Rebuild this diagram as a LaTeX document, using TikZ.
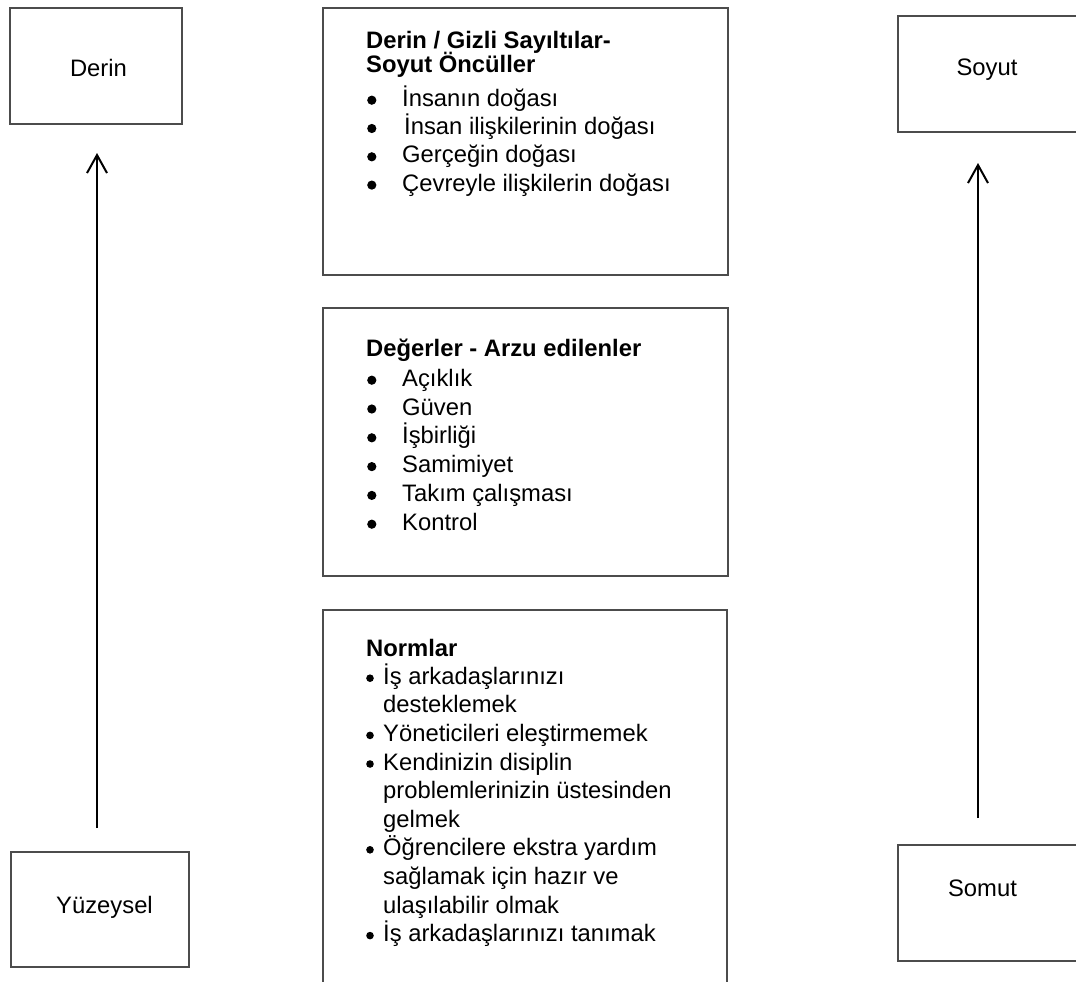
\documentclass[tikz,border=0pt]{standalone}
\usepackage{fontspec}
\setmainfont{Liberation Sans}
\usetikzlibrary{arrows.meta}
\newcommand\bigblt{\tikz[baseline=0pt]{\fill (0pt,6pt) circle[radius=4.6pt];}}
\newcommand\smlblt{\tikz[baseline=0pt]{\fill (0pt,6pt) circle[radius=3.8pt];}}
\newcommand\itA{\hspace*{1pt}\makebox[35pt][l]{\bigblt}}
\newcommand\itB{\hspace*{0pt}\makebox[17pt][l]{\smlblt}}
\begin{document}
\begin{tikzpicture}[x=1pt,y=-1pt,
  box/.style={draw=black!70, line width=1.1pt, inner sep=0pt, outer sep=0pt, anchor=north west},
  lbl/.style={anchor=base, inner sep=0pt, font=\fontsize{23.8}{28}\selectfont},
  txt/.style={anchor=north west, inner sep=0pt, align=left},
  arr/.style={line width=2pt, -{Straight Barb[length=18pt,width=20pt,line width=2pt]}}]
\useasboundingbox (0,0) rectangle (1076,982);
\clip (0,0) rectangle (1076,982);
% side boxes
\node[box, minimum width=172pt, minimum height=116pt] (derin) at (10,8) {};
\node[box, minimum width=178pt, minimum height=115pt] (yuz) at (11,852) {};
\node[box, minimum width=200pt, minimum height=116pt] (soyut) at (898,16) {};
\node[box, minimum width=200pt, minimum height=116pt] (somut) at (898,845) {};
\node[lbl] (derinT) at (98.5,77) {Derin};
\node[lbl] (yuzT) at (104.5,913) {Yüzeysel};
\node[lbl] (soyutT) at (987,76) {Soyut};
\node[lbl] (somutT) at (982.5,896.5) {Somut};
% middle boxes
\node[box, minimum width=405pt, minimum height=267pt] (b1) at (323,8) {};
\node[box, minimum width=405pt, minimum height=268pt] (b2) at (323,308) {};
\node[box, minimum width=404pt, minimum height=420pt] (b3) at (323,610) {};
\node[txt, font=\fontsize{23.8}{28.3}\selectfont] (t1) at (366,24) {%
\rule{0pt}{24pt}\textbf{Derin / Gizli Sayıltılar-}\\[-3.8pt]
\textbf{Soyut Öncüller}\\[5.2pt]
\itA İnsanın doğası\\
\itA\hspace*{2pt}İnsan ilişkilerinin doğası\\
\itA Gerçeğin doğası\\
\itA Çevreyle ilişkilerin doğası};
\node[txt, font=\fontsize{23.8}{28.8}\selectfont] (t2) at (366,332) {%
\rule{0pt}{24pt}\textbf{Değerler - Arzu edilenler}\\[1.2pt]
\itA Açıklık\\
\itA Güven\\
\itA İşbirliği\\
\itA Samimiyet\\
\itA Takım çalışması\\
\itA Kontrol};
\node[txt, font=\fontsize{23.8}{28.6}\selectfont] (t3) at (366,632) {%
\rule{0pt}{24pt}\textbf{Normlar}\\[-0.6pt]
\itB İş arkadaşlarınızı\\
\hspace*{17pt}desteklemek\\
\itB Yöneticileri eleştirmemek\\
\itB Kendinizin disiplin\\
\hspace*{17pt}problemlerinizin üstesinden\\
\hspace*{17pt}gelmek\\
\itB Öğrencilere ekstra yardım\\
\hspace*{17pt}sağlamak için hazır ve\\
\hspace*{17pt}ulaşılabilir olmak\\
\itB İş arkadaşlarınızı tanımak};
% arrows
\coordinate (a1s) at (97,828);
\coordinate (a1e) at (97,153);
\coordinate (a2s) at (978,818);
\coordinate (a2e) at (978,163);
\draw[arr] (a1s) -- (a1e);
\draw[arr] (a2s) -- (a2e);
\end{tikzpicture}
\end{document}
